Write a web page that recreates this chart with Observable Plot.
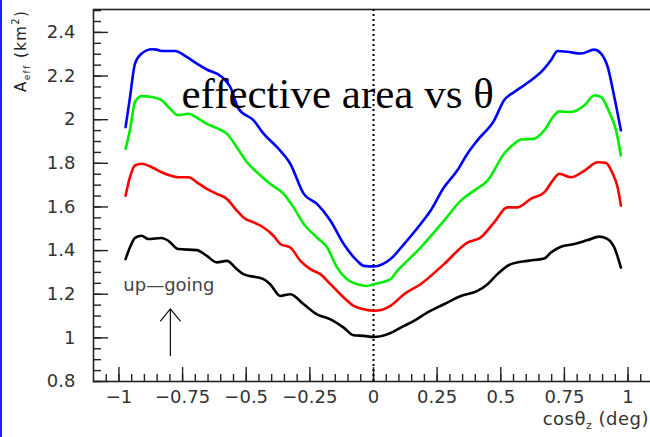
<!DOCTYPE html>
<html><head><meta charset="utf-8">
<script src="https://cdn.jsdelivr.net/npm/d3@7"></script>
<script src="https://cdn.jsdelivr.net/npm/@observablehq/plot@0.6"></script>
<style>
html,body{margin:0;padding:0;background:#fff;overflow:hidden;}
#wrap{position:relative;width:650px;height:437px;overflow:hidden;}
#edge{position:absolute;left:0;top:0;width:2px;height:437px;background:#1f1fff;z-index:2;}
</style></head><body><div id="wrap"><div id="edge"></div></div>
<script>
// ---- data ----
const cosBlue = [-0.974,-0.957,-0.937,-0.911,-0.871,-0.852,-0.832,-0.780,-0.734,-0.694,-0.655,-0.596,-0.563,-0.530,-0.471,-0.432,-0.379,-0.327,-0.274,-0.222,-0.169,-0.117,-0.064,-0.038,0.001,0.067,0.120,0.185,0.224,0.277,0.329,0.369,0.408,0.474,0.513,0.553,0.592,0.671,0.697,0.723,0.762,0.815,0.867,0.894,0.920,0.946,0.972];
const effBlue = [1.966,2.100,2.257,2.303,2.323,2.321,2.315,2.315,2.288,2.257,2.230,2.196,2.150,2.050,1.997,1.936,1.874,1.798,1.660,1.614,1.537,1.430,1.353,1.330,1.327,1.361,1.430,1.522,1.583,1.690,1.767,1.844,1.905,1.997,2.089,2.127,2.158,2.234,2.272,2.315,2.311,2.303,2.321,2.303,2.242,2.104,1.951];

const cosGreen = [-0.974,-0.957,-0.937,-0.911,-0.871,-0.832,-0.799,-0.767,-0.727,-0.694,-0.655,-0.616,-0.576,-0.537,-0.497,-0.458,-0.406,-0.353,-0.314,-0.274,-0.222,-0.182,-0.143,-0.104,-0.064,-0.025,0.001,0.067,0.093,0.133,0.185,0.277,0.343,0.395,0.448,0.513,0.553,0.579,0.631,0.671,0.710,0.730,0.776,0.829,0.868,0.894,0.926,0.953,0.972];
const effGreen = [1.867,1.951,2.081,2.108,2.104,2.089,2.050,2.020,2.027,2.009,1.981,1.961,1.936,1.874,1.805,1.759,1.706,1.660,1.598,1.522,1.460,1.414,1.322,1.269,1.246,1.238,1.246,1.269,1.307,1.353,1.414,1.537,1.629,1.675,1.721,1.844,1.890,1.909,1.913,1.951,2.020,2.038,2.035,2.066,2.112,2.104,2.035,1.951,1.836];

const cosRed = [-0.974,-0.957,-0.937,-0.911,-0.871,-0.832,-0.799,-0.767,-0.727,-0.694,-0.655,-0.616,-0.576,-0.537,-0.511,-0.471,-0.432,-0.393,-0.366,-0.327,-0.287,-0.248,-0.209,-0.169,-0.117,-0.078,-0.038,0.001,0.067,0.120,0.185,0.277,0.369,0.421,0.474,0.526,0.566,0.618,0.671,0.704,0.730,0.776,0.829,0.881,0.913,0.940,0.959,0.972];
const effRed = [1.652,1.736,1.790,1.798,1.782,1.759,1.744,1.736,1.736,1.713,1.683,1.660,1.637,1.583,1.552,1.529,1.506,1.468,1.430,1.414,1.353,1.315,1.292,1.246,1.185,1.147,1.131,1.124,1.147,1.200,1.246,1.338,1.437,1.460,1.529,1.598,1.598,1.637,1.667,1.721,1.752,1.736,1.767,1.805,1.802,1.752,1.690,1.606];

const cosBlack = [-0.974,-0.957,-0.937,-0.911,-0.885,-0.832,-0.806,-0.767,-0.694,-0.655,-0.616,-0.576,-0.537,-0.511,-0.432,-0.406,-0.366,-0.327,-0.274,-0.222,-0.169,-0.117,-0.078,-0.038,0.001,0.054,0.120,0.159,0.211,0.277,0.343,0.408,0.448,0.487,0.540,0.605,0.671,0.697,0.736,0.789,0.841,0.887,0.920,0.946,0.972];
const effBlack = [1.361,1.414,1.458,1.468,1.453,1.458,1.445,1.407,1.402,1.376,1.346,1.353,1.315,1.292,1.269,1.246,1.192,1.200,1.154,1.108,1.085,1.047,1.012,1.009,1.004,1.016,1.055,1.078,1.116,1.154,1.192,1.215,1.246,1.292,1.338,1.353,1.364,1.391,1.418,1.430,1.448,1.464,1.453,1.414,1.322];

const seriesNames = ["curve 1","curve 2","curve 3","curve 4"];
const seriesColors = ["#0000ff","#00ee00","#ff0000","#000000"];

const xMajorTicks = [-1,-0.75,-0.5,-0.25,0,0.25,0.5,0.75,1];
const yMajorTicks = [0.8,1,1.2,1.4,1.6,1.8,2,2.2,2.4];
const xMinorTicks = d3.range(-21,22).map(i => i*0.05).filter(v => Math.abs(v) <= 1.1);
const yMinorTicks = d3.range(16,51).map(i => i*0.05);

const titleText = ["effective area vs θ"];
const upLabel = [{x:-0.804, y:1.24, t:"up\u2014going"}];
const upArrow = [{x1:-0.798, y1:0.919, x2:-0.798, y2:1.133}];
const zeroLine = [0];

// ---- build rows ----
const xsAll = [cosBlue, cosGreen, cosRed, cosBlack];
const ysAll = [effBlue, effGreen, effRed, effBlack];
const rows = seriesNames.flatMap((s, k) => xsAll[k].map((x, i) => ({x, y: ysAll[k][i], s})));

const W = 650, H = 437, mL = 93, mR = -3, mT = 9, mB = 56;
const pw = W - mL - mR, ph = H - mT - mB;
const fmt = d => (d < 0 ? "\u2212" : "") + Math.abs(d);

const chart = Plot.plot({
  width: W, height: H,
  marginLeft: mL, marginRight: mR, marginTop: mT, marginBottom: mB,
  style: {fontFamily: "DejaVu Sans", fontSize: "18px", color: "#222", background: "white"},
  x: {domain: [-1.1, 1.1], label: null},
  y: {domain: [0.8, 2.505], label: null},
  color: {type: "ordinal", domain: seriesNames, range: seriesColors},
  marks: [
    Plot.frame({stroke: "#222", strokeWidth: 1.6}),
    Plot.ruleX(xMinorTicks, {x: d => d, insetTop: ph - 7, stroke: "#222", strokeWidth: 1.4}),
    Plot.ruleX(xMajorTicks, {x: d => d, insetTop: ph - 14, stroke: "#222", strokeWidth: 1.4}),
    Plot.ruleY(yMinorTicks, {y: d => d, insetRight: pw - 8, stroke: "#222", strokeWidth: 1.4}),
    Plot.ruleY(yMajorTicks, {y: d => d, insetRight: pw - 15, stroke: "#222", strokeWidth: 1.4}),
    Plot.axisX({ticks: xMajorTicks, tickSize: 0, tickPadding: 9, tickFormat: fmt, fontSize: 18, fill: "#333", label: null}),
    Plot.axisY({ticks: yMajorTicks, tickSize: 0, tickPadding: 18, tickFormat: fmt, fontSize: 18, fill: "#333", label: null}),
    Plot.ruleX(zeroLine, {x: d => d, stroke: "#000", strokeWidth: 2, strokeDasharray: "2,3"}),
    Plot.line(rows, {x: "x", y: "y", z: "s", stroke: "s", strokeWidth: 2.6, curve: "monotone-x"}),
    Plot.text(titleText, {frameAnchor: "top-left", dx: 181 - mL, dy: 107 - mT, lineAnchor: "bottom", textAnchor: "start", fontFamily: "Liberation Serif", fontSize: 43, fill: "#000"}),
    Plot.text(upLabel, {x: "x", y: "y", text: "t", fontSize: 18, fill: "#444", letterSpacing: "0.6px"}),
    Plot.arrow(upArrow, {x1: "x1", y1: "y1", x2: "x2", y2: "y2", headAngle: 78, headLength: 21, stroke: "#111", strokeWidth: 1.2})
  ]
});

const svg = d3.select(chart);
// y axis title
const yt = svg.append("text").attr("transform", "translate(26,92) rotate(-90)")
  .attr("text-anchor", "start").attr("letter-spacing", "1.4px")
  .attr("font-family", "DejaVu Sans").attr("font-size", 15).attr("fill", "#222");
yt.append("tspan").text("A");
yt.append("tspan").attr("font-size", 9).attr("dy", 4).text("eff");
yt.append("tspan").attr("dy", -4).text(" (km");
yt.append("tspan").attr("font-size", 10).attr("dy", -7).text("2");
yt.append("tspan").attr("dy", 7).text(")");
// x axis title
const xt = svg.append("text").attr("x", 649).attr("y", 425).attr("text-anchor", "end")
  .attr("letter-spacing", "0.5px")
  .attr("font-family", "DejaVu Sans").attr("font-size", 18).attr("fill", "#333");
xt.append("tspan").text("cos\u03b8");
xt.append("tspan").attr("font-size", 11).attr("dy", 4).text("z");
xt.append("tspan").attr("dy", -4).text(" (deg)");

document.getElementById("wrap").appendChild(chart);
</script>
</body></html>
